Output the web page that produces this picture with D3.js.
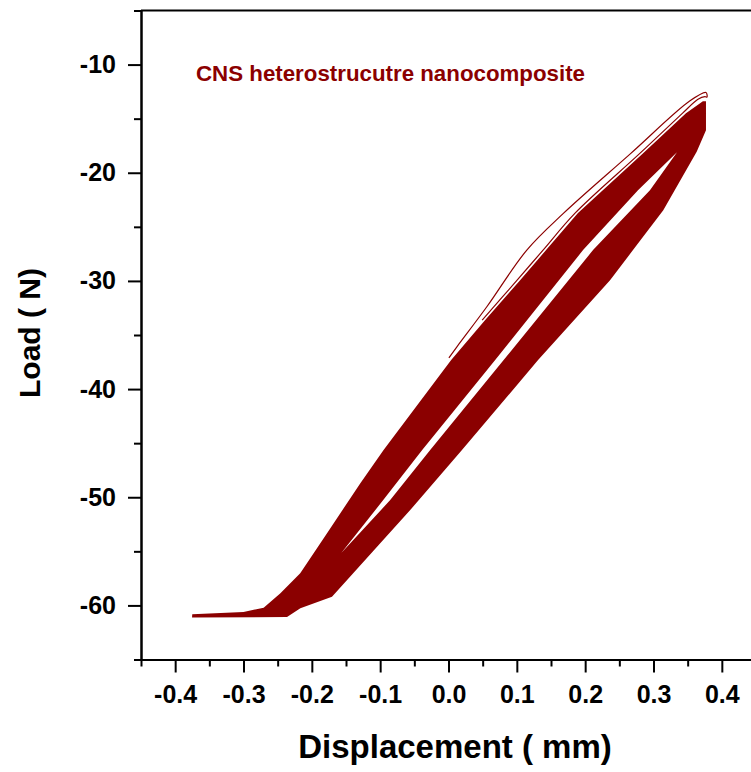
<!DOCTYPE html>
<html>
<head>
<meta charset="utf-8">
<script src="https://cdn.jsdelivr.net/npm/d3@7"></script>
<style>
  body { margin: 0; background: #fff; }
  text { font-family: Arial, "Liberation Sans", sans-serif; font-weight: bold; }
</style>
</head>
<body>
<div id="chart"></div>
<script>
// tick values
const xMajor = [-0.4, -0.3, -0.2, -0.1, 0.0, 0.1, 0.2, 0.3, 0.4];
const xMinor = [-0.45, -0.35, -0.25, -0.15, -0.05, 0.05, 0.15, 0.25, 0.35, 0.45];
const yMajor = [-60, -50, -40, -30, -20, -10];
const yMinor = [-65, -55, -45, -35, -25, -15, -5];

// cyclic test: [displacement mm, load N]
// outer edge of the dense cycle band, upper-left side (bottom -> tip)
const bandUpper = [
  [-0.375, -60.82], [-0.300, -60.62], [-0.2705, -60.21], [-0.246, -58.88],
  [-0.217, -57.03], [-0.178, -53.34], [-0.129, -48.71], [-0.095, -45.64],
  [0.0039, -37.32], [0.0537, -33.62], [0.1048, -29.93], [0.1428, -27.15],
  [0.1895, -23.73], [0.2832, -18.28], [0.3475, -14.49], [0.3723, -13.38],
  [0.3768, -13.38]
];
// outer edge, lower-right side (tip -> bottom)
const bandLower = [
  [0.3768, -16.06], [0.3632, -18.07], [0.3143, -23.46], [0.2700, -27.15],
  [0.2364, -29.93], [0.1311, -37.32], [0.0197, -45.64], [-0.056, -51.18],
  [-0.1705, -59.20], [-0.2168, -60.27], [-0.2363, -61.08], [-0.3753, -61.12]
];
// open space inside the loops
const gapLeft = [
  [-0.1569, -55.16], [-0.0955, -50.26], [-0.0385, -45.64], [0.0683, -37.32],
  [0.1969, -27.15], [0.2773, -21.61], [0.3344, -18.10]
];
const gapRight = [
  [0.2948, -21.61], [0.2115, -27.15], [0.0807, -37.32],
  [-0.0268, -45.64], [-0.0853, -50.26]
];
// first loading run from the start point, and its return along the band
const firstCycle = [
  [0.0006, -37.11], [0.0123, -36.09], [0.0561, -32.39], [0.1146, -27.15],
  [0.1681, -23.76], [0.2656, -18.28], [0.3534, -13.35], [0.3768, -12.58],
  [0.3782, -13.01], [0.3753, -12.97], [0.3651, -13.20], [0.3426, -14.49],
  [0.2788, -18.28], [0.1852, -23.73], [0.1384, -27.15], [0.1004, -29.93],
  [0.0493, -33.62]
];

const label = "CNS heterostrucutre nanocomposite";
const red = "#8b0000";

const width = 751, height = 772;
const margin = { top: 10.5, left: 141, bottom: 112.5, right: -5 };

const svg = d3.select("#chart").append("svg")
  .attr("width", width)
  .attr("height", height);

const x = d3.scaleLinear().domain([-0.45, 0.45]).range([margin.left, width - margin.right]);
const y = d3.scaleLinear().domain([-65, -5]).range([height - margin.bottom, margin.top]);

const line = d3.line().x(d => x(d[0])).y(d => y(d[1]));
const smooth = d3.line().x(d => x(d[0])).y(d => y(d[1])).curve(d3.curveCatmullRom.alpha(0.5));

// band: outer outline with the gap cut out
svg.append("path")
  .attr("d", line(bandUpper.concat(bandLower)) + "Z" + line(gapLeft.concat(gapRight)) + "Z")
  .attr("fill", red)
  .attr("fill-rule", "evenodd");

svg.append("path")
  .attr("d", smooth(firstCycle))
  .attr("fill", "none")
  .attr("stroke", red)
  .attr("stroke-width", 1.2);

// frame
svg.append("line")
  .attr("x1", x(-0.45)).attr("x2", x(0.45))
  .attr("y1", y(-5)).attr("y2", y(-5))
  .attr("stroke", "#000").attr("stroke-width", 2);
svg.append("line")
  .attr("x1", x(0.45)).attr("x2", x(0.45))
  .attr("y1", y(-5)).attr("y2", y(-65))
  .attr("stroke", "#000").attr("stroke-width", 2);

function styleAxis(g) {
  g.attr("font-size", 25).attr("font-family", "Arial, 'Liberation Sans', sans-serif").attr("font-weight", "bold");
  g.selectAll("line, path").attr("stroke", "#000").attr("stroke-width", 2);
  g.selectAll("text").attr("fill", "#000");
}

svg.append("g")
  .attr("transform", `translate(0,${y(-65)})`)
  .call(d3.axisBottom(x).tickValues(xMinor).tickSize(7).tickSizeOuter(0).tickFormat(""))
  .call(styleAxis);
svg.append("g")
  .attr("transform", `translate(0,${y(-65)})`)
  .call(d3.axisBottom(x).tickValues(xMajor).tickSize(13).tickPadding(13).tickSizeOuter(0)
    .tickFormat(d => d.toFixed(1)))
  .call(styleAxis);

svg.append("g")
  .attr("transform", `translate(${x(-0.45)},0)`)
  .call(d3.axisLeft(y).tickValues(yMinor).tickSize(7).tickSizeOuter(0).tickFormat(""))
  .call(styleAxis);
svg.append("g")
  .attr("transform", `translate(${x(-0.45)},0)`)
  .call(d3.axisLeft(y).tickValues(yMajor).tickSize(13).tickPadding(12).tickSizeOuter(0)
    .tickFormat(d => String(d)))
  .call(styleAxis);

// titles
svg.append("text")
  .attr("x", 455).attr("y", 758)
  .attr("text-anchor", "middle")
  .attr("font-size", 33)
  .text("Displacement ( mm)");

svg.append("text")
  .attr("transform", `translate(40,333) rotate(-90)`)
  .attr("text-anchor", "middle")
  .attr("font-size", 30)
  .text("Load ( N)");

svg.append("text")
  .attr("x", 196).attr("y", 81)
  .attr("font-size", 22.3)
  .attr("fill", red)
  .text(label);
</script>
</body>
</html>
